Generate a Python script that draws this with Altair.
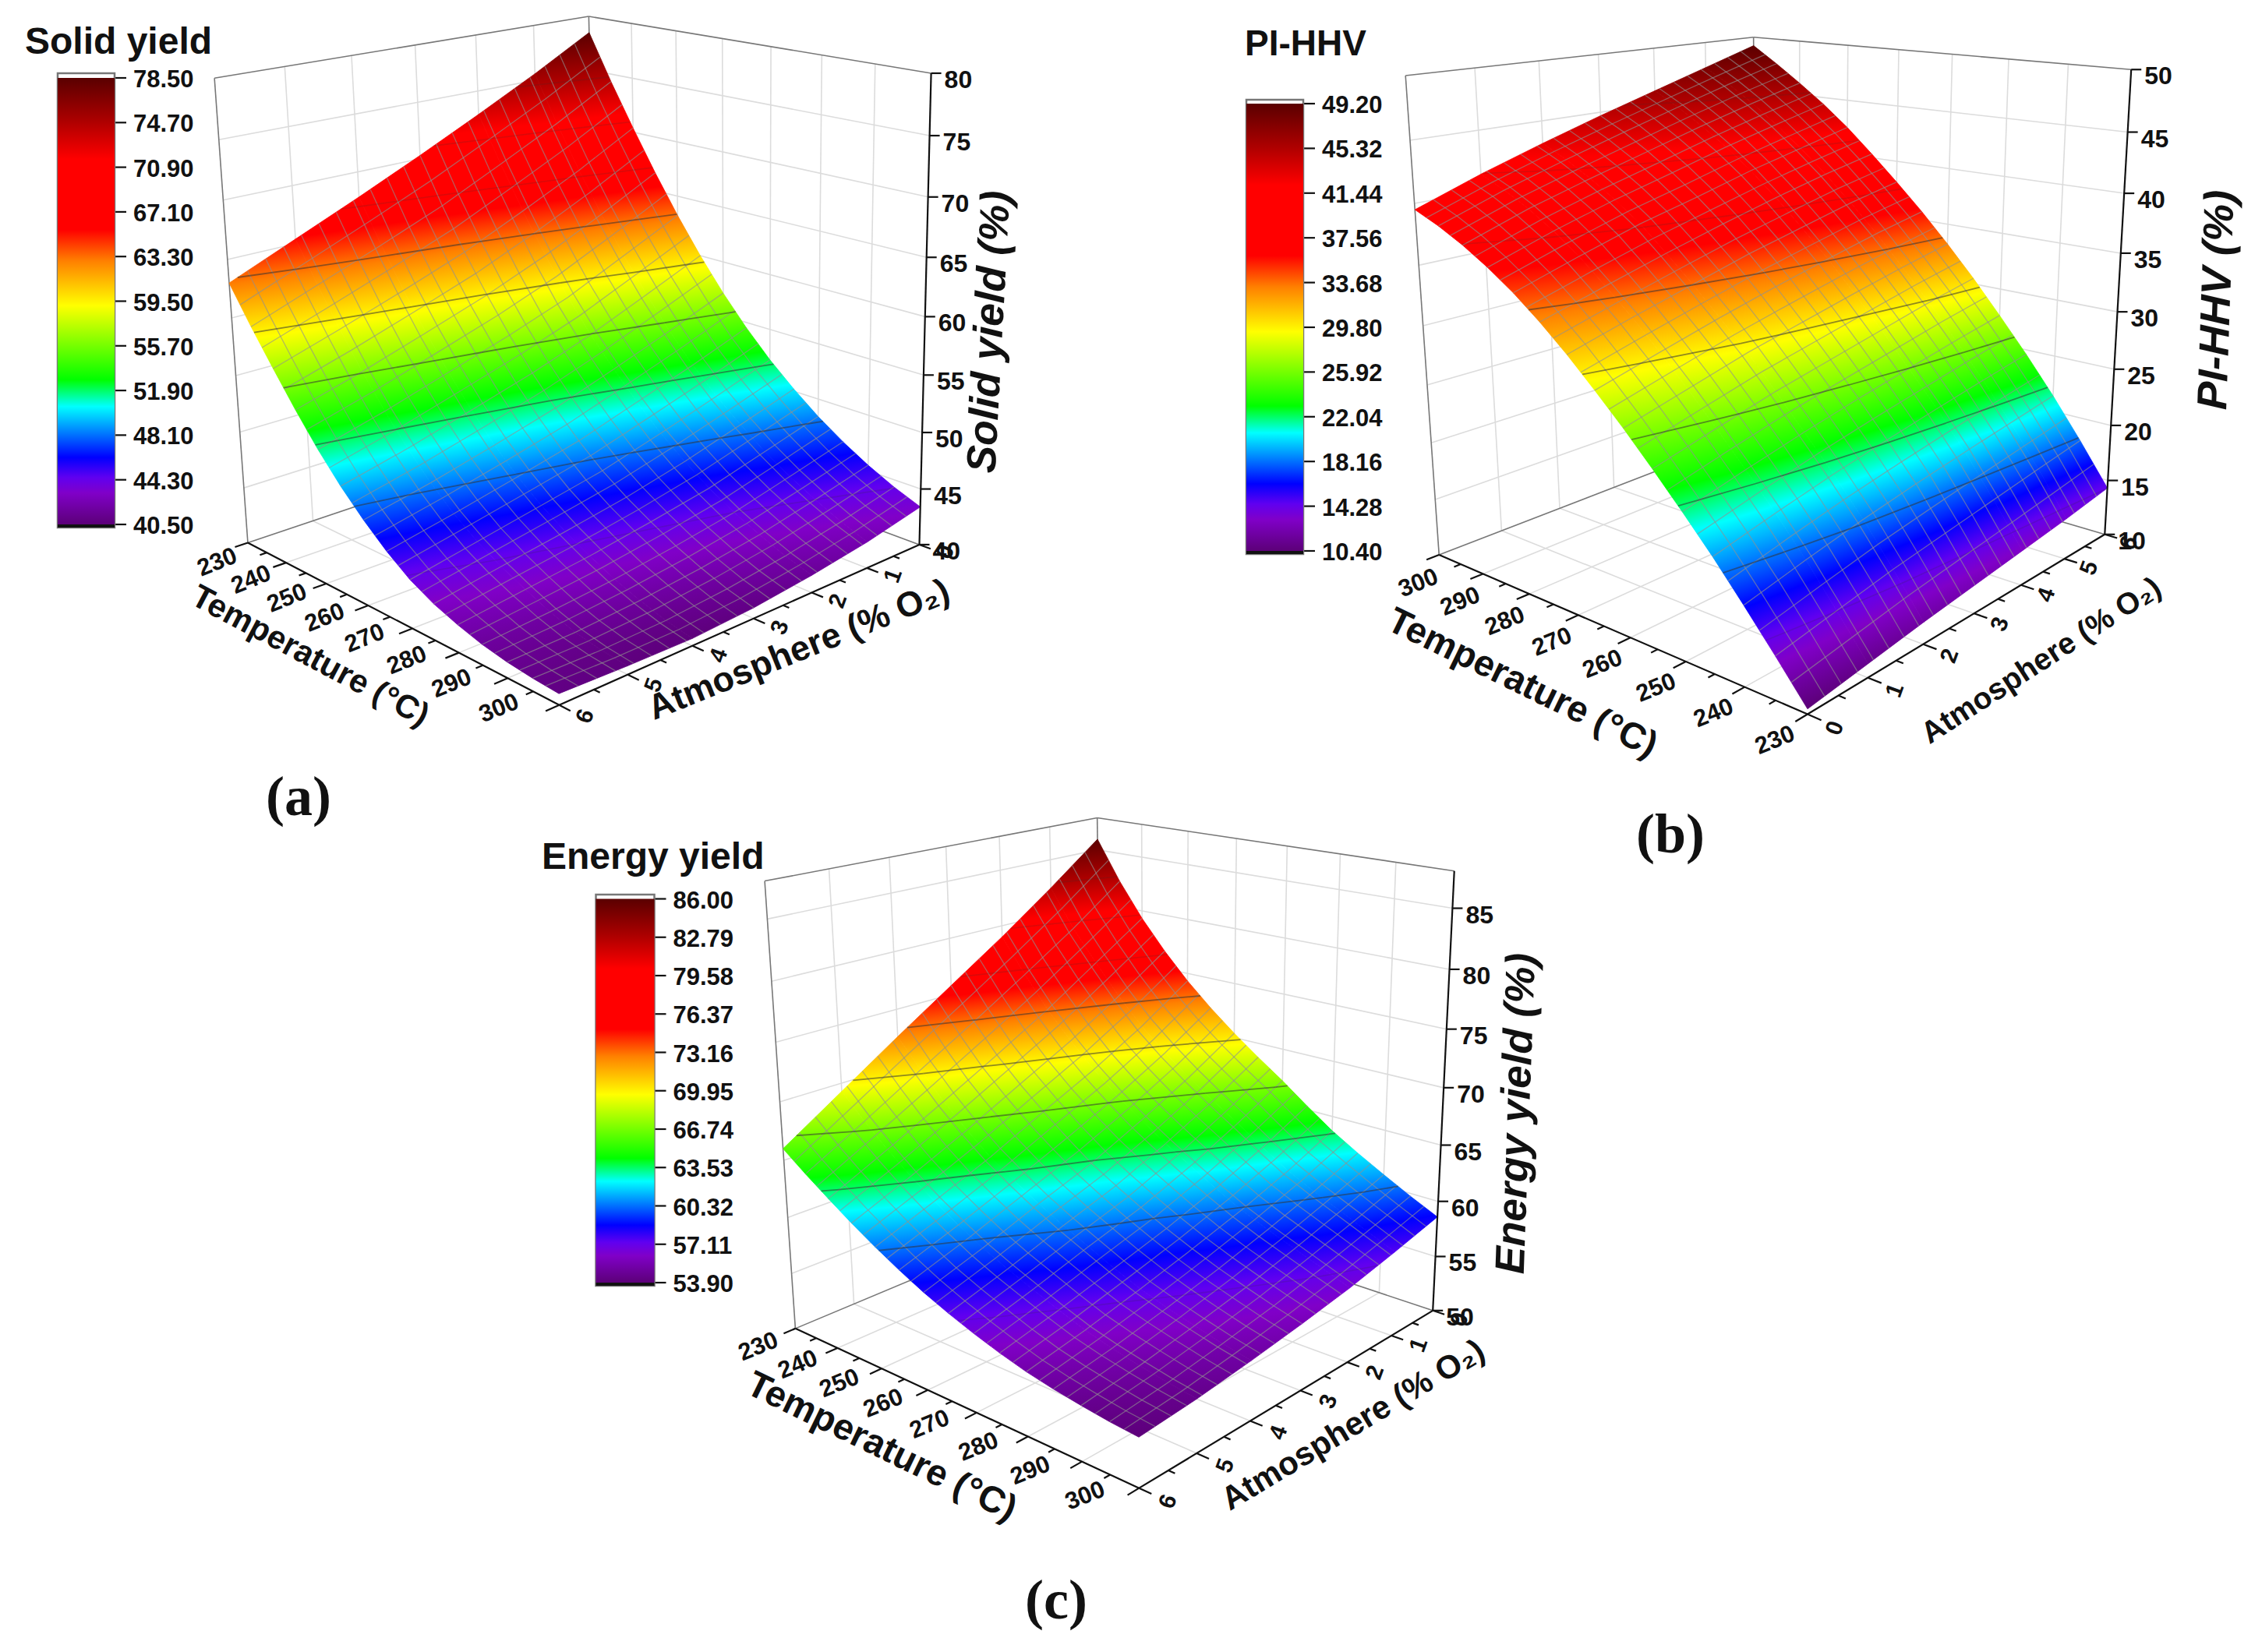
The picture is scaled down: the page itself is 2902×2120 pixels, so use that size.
import numpy as np
import altair as alt

# ------------------------------------------------------------------ values
T_TICKS = [230, 240, 250, 260, 270, 280, 290, 300]
O_TICKS = [0, 1, 2, 3, 4, 5, 6]
T_GRID = [230, 235, 240, 245, 250, 255, 260, 265, 270, 275, 280, 285, 290, 295, 300]

SOLID = [
    [78.5, 75.6, 72.9, 70.3, 67.8, 65.4, 63.0],
    [74.3, 71.45, 68.85, 66.3, 64.1, 62.0, 59.9],
    [70.4, 67.6, 65.1, 62.7, 60.7, 58.8, 57.0],
    [66.67, 64.05, 61.6, 59.45, 57.6, 55.8, 54.2],
    [63.2, 60.8, 58.4, 56.5, 54.8, 53.1, 51.6],
    [60.0, 57.8, 55.65, 53.8, 52.2, 50.65, 49.3],
    [57.1, 55.1, 53.2, 51.4, 49.9, 48.5, 47.3],
    [54.5, 52.65, 50.95, 49.25, 47.95, 46.7, 45.55],
    [52.2, 50.5, 48.9, 47.4, 46.3, 45.2, 44.1],
    [50.2, 48.65, 47.15, 45.9, 44.9, 44.0, 43.05],
    [48.4, 47.0, 45.6, 44.6, 43.7, 43.0, 42.3],
    [46.85, 45.55, 44.3, 43.4, 42.65, 42.1, 41.7],
    [45.5, 44.3, 43.2, 42.4, 41.8, 41.4, 41.3],
    [44.35, 43.2, 42.25, 41.55, 41.1, 40.95, 41.05],
    [43.4, 42.3, 41.5, 40.9, 40.6, 40.7, 40.9],
]
PIHHV = [
    [10.4, 11.1, 11.8, 12.4, 13.0, 13.6, 14.3],
    [13.4, 14.3, 15.2, 15.9, 16.6, 17.3, 17.95],
    [16.3, 17.4, 18.4, 19.25, 20.0, 20.7, 21.4],
    [19.1, 20.25, 21.3, 22.2, 23.05, 23.85, 24.6],
    [21.7, 22.9, 24.0, 25.0, 25.9, 26.8, 27.6],
    [24.2, 25.45, 26.65, 27.65, 28.65, 29.65, 30.5],
    [26.6, 27.9, 29.2, 30.25, 31.3, 32.3, 33.2],
    [28.85, 30.2, 31.5, 32.7, 33.8, 34.85, 35.75],
    [31.0, 32.4, 33.7, 35.0, 36.1, 37.2, 38.1],
    [32.95, 34.4, 35.8, 37.1, 38.3, 39.4, 40.35],
    [34.7, 36.3, 37.8, 39.0, 40.3, 41.4, 42.5],
    [36.2, 37.9, 39.4, 40.7, 42.05, 43.25, 44.4],
    [37.5, 39.3, 40.8, 42.2, 43.6, 44.9, 46.1],
    [38.6, 40.45, 42.05, 43.55, 45.0, 46.4, 47.7],
    [39.5, 41.4, 43.1, 44.7, 46.2, 47.7, 49.2],
]
ENERGY = [
    [86.0, 82.4, 79.0, 75.8, 72.6, 69.3, 66.0],
    [82.4, 79.05, 76.0, 73.05, 70.2, 67.3, 64.5],
    [79.3, 76.3, 73.3, 70.6, 68.0, 65.5, 63.1],
    [76.65, 73.7, 70.95, 68.55, 66.1, 63.85, 61.75],
    [74.3, 71.4, 68.9, 66.7, 64.4, 62.4, 60.5],
    [72.25, 69.5, 67.1, 65.0, 63.0, 61.1, 59.35],
    [70.4, 67.8, 65.5, 63.4, 61.7, 59.9, 58.3],
    [68.7, 66.25, 64.05, 62.1, 60.55, 58.9, 57.4],
    [67.1, 64.8, 62.7, 60.9, 59.5, 58.0, 56.6],
    [65.35, 63.25, 61.4, 59.8, 58.45, 57.1, 55.9],
    [63.7, 61.8, 60.2, 58.8, 57.5, 56.3, 55.3],
    [62.3, 60.65, 59.2, 57.9, 56.75, 55.7, 54.85],
    [61.0, 59.6, 58.3, 57.1, 56.1, 55.2, 54.5],
    [59.75, 58.55, 57.4, 56.35, 55.5, 54.75, 54.2],
    [58.6, 57.5, 56.5, 55.7, 55.0, 54.4, 54.0],
]
SOLID_LEVELS = [78.50, 74.70, 70.90, 67.10, 63.30, 59.50, 55.70, 51.90, 48.10, 44.30, 40.50]
PIHHV_LEVELS = [49.20, 45.32, 41.44, 37.56, 33.68, 29.80, 25.92, 22.04, 18.16, 14.28, 10.40]
ENERGY_LEVELS = [86.00, 82.79, 79.58, 76.37, 73.16, 69.95, 66.74, 63.53, 60.32, 57.11, 53.90]
SOLID_Z_TICKS = [40, 45, 50, 55, 60, 65, 70, 75, 80]
PIHHV_Z_TICKS = [10, 15, 20, 25, 30, 35, 40, 45, 50]
ENERGY_Z_TICKS = [50, 55, 60, 65, 70, 75, 80, 85]

# rainbow palette of the colour scale (fraction of the range, colour)
PALETTE = [(0.0, "#5c0078"), (0.07, "#8000c8"), (0.105, "#6000f0"), (0.15, "#0000ff"),
           (0.264, "#00ffff"), (0.324, "#00ff00"), (0.49, "#ffff00"), (0.59, "#ff8000"),
           (0.66, "#ff0000"), (0.818, "#ff0000"), (0.90, "#b00000"), (1.0, "#5a0000")]

# layout: box corners seen on the page, colour bar, captions
PANELS = [
    dict(table=SOLID, levels=SOLID_LEVELS, zticks=SOLID_Z_TICKS, zr=(40, 80), rev=False,
         toff=1.10, tshift=((13, 8), (-22, -20)), oshift=(0, -3),
         B0=(775, 535), B1=(754, 21), L0=(318, 698), L1=(274, 102), R0=(1179, 702), R1=(1194, 94),
         F0=(715, 903), F1=(714, 195),
         bar=(74, 147, 94, 100, 673), name="Solid yield", name_xy=(32, 55), name_size=48,
         ttitle=((398, 842), 28, 42), otitle=((1025, 834), 338, 45),
         ztitle=("Solid yield (%)", (1270, 426), 273, 53), cap=("(a)", (383, 1024))),
    dict(table=PIHHV, levels=PIHHV_LEVELS, zticks=PIHHV_Z_TICKS, zr=(10, 50), rev=True,
         toff=1.07, tshift=((9, 23), (-7, 13)), oshift=(-6, 0),
         B0=(2265, 548), B1=(2246.5, 47.7), L0=(1843, 714), L1=(1807, 97), R0=(2697, 687), R1=(2738, 90),
         F0=(2323, 915), F1=(2300, 160),
         bar=(1599, 1672, 128, 133, 707), name="PI-HHV", name_xy=(1597, 57), name_size=46,
         ttitle=((1953, 877), 26, 47), otitle=((2619, 848), 327, 39),
         ztitle=("PI-HHV (%)", (2845, 385), 272, 54), cap=("(b)", (2143, 1072))),
    dict(table=ENERGY, levels=ENERGY_LEVELS, zticks=ENERGY_Z_TICKS, zr=(50, 88), rev=False,
         toff=1.10, tshift=((0, 4), (-22, -18)), oshift=(0, 0),
         B0=(1420, 1530), B1=(1406, 1049), L0=(1018.5, 1707), L1=(983, 1132), R0=(1836, 1684), R1=(1868, 1119),
         F0=(1464, 1908), F1=(1447, 1222),
         bar=(764.5, 839.5, 1148, 1153.5, 1646), name="Energy yield", name_xy=(695, 1101), name_size=48,
         ttitle=((1131, 1857), 26, 47), otitle=((1736, 1829), 329, 42),
         ztitle=("Energy yield (%)", (1946, 1429), 272, 53), cap=("(c)", (1355, 2055))),
]
MESH_T, MESH_O = 28, 22


def hex2rgb(h):
    return np.array([int(h[i:i + 2], 16) for i in (1, 3, 5)], float)


def cmap(f):
    f = min(1.0, max(0.0, f))
    for (a, ca), (b, cb) in zip(PALETTE[:-1], PALETTE[1:]):
        if f <= b:
            c = hex2rgb(ca) + (hex2rgb(cb) - hex2rgb(ca)) * (f - a) / (b - a)
            return "#%02x%02x%02x" % tuple(int(round(v)) for v in c)
    return PALETTE[-1][1]


def camera(p):
    """Perspective camera fitted to the eight box corners."""
    pts = [((0, 0, 0), p["B0"], .5), ((0, 0, 1), p["B1"], 1), ((0, 1, 0), p["L0"], 1), ((0, 1, 1), p["L1"], 1),
           ((1, 0, 0), p["R0"], 1), ((1, 0, 1), p["R1"], 1), ((1, 1, 0), p["F0"], 1), ((1, 1, 1), p["F1"], .5)]
    rows = []
    for (X, Y, Z), (u, v), wt in pts:
        u, v = u / 1000, v / 1000
        rows.append([wt * c for c in [X, Y, Z, 1, 0, 0, 0, 0, -u * X, -u * Y, -u * Z, -u]])
        rows.append([wt * c for c in [0, 0, 0, 0, X, Y, Z, 1, -v * X, -v * Y, -v * Z, -v]])
    M = np.linalg.svd(np.array(rows))[2][-1].reshape(3, 4)

    def proj(s, q, w):
        h = M @ np.array([s, q, w, 1.0])
        return h[0] / h[2] * 1000, h[1] / h[2] * 1000
    return proj


cells, lines, texts, bars, bar_white, bar_foot = [], [], [], [], [], []
gid = 0


def add_line(style, pts):
    global gid
    gid += 1
    for i, (x, y) in enumerate(pts):
        lines.append(dict(x=float(x), y=float(y), g=gid, i=i, style=style))


def add_text(style, text, x, y, size, angle=0):
    texts.append(dict(text=text, x=float(x), y=float(y), size=size, angle=angle, style=style))


for p in PANELS:
    proj = camera(p)
    Z = np.array(p["table"], float)
    zlo, zhi = p["levels"][-1], p["levels"][0]
    zmin, zmax = p["zr"]
    rev = p["rev"]
    sf = (lambda t: (300 - t) / 70) if rev else (lambda t: (t - 230) / 70)
    qf = (lambda o: (6 - o) / 6) if rev else (lambda o: o / 6)
    wf = lambda z: (z - zmin) / (zmax - zmin)
    nT, nO = len(T_GRID), len(O_TICKS)

    def P(t, o, z):
        return proj(sf(t), qf(o), wf(z))

    # box edges
    for a, b in [((0, 1, 0), (0, 0, 0)), ((0, 0, 0), (1, 0, 0)), ((0, 1, 0), (0, 1, 1)), ((0, 1, 1), (0, 0, 1)),
                 ((0, 0, 1), (1, 0, 1)), ((0, 0, 0), (0, 0, 1))]:
        add_line("box", [proj(*a), proj(*b)])
    # grids on the walls and the floor
    for t in T_TICKS:
        s = sf(t)
        if 0 < s < 1:
            add_line("grid", [proj(s, 0, 0), proj(s, 0, 1)])
            add_line("grid", [proj(s, 0, 0), proj(s, 1, 0)])
    for o in O_TICKS:
        q = qf(o)
        if 0 < q < 1:
            add_line("grid", [proj(0, q, 0), proj(0, q, 1)])
            add_line("grid", [proj(0, q, 0), proj(1, q, 0)])
    for z in p["zticks"]:
        w = wf(z)
        if 0 < w < 1:
            add_line("grid", [proj(0, 1, w), proj(0, 0, w)])
            add_line("grid", [proj(0, 0, w), proj(1, 0, w)])

    # surface cells, each shaded with a gradient between its four read values
    for i in range(nT - 1):
        for j in range(nO - 1):
            corners = [(i, j), (i + 1, j), (i + 1, j + 1), (i, j + 1)]
            pts = [P(T_GRID[a], O_TICKS[b], Z[a, b]) for a, b in corners]
            zs = np.array([Z[a, b] for a, b in corners])
            xs, ys = np.array(pts).T
            u = (xs - xs.min()) / (xs.max() - xs.min())
            v = (ys - ys.min()) / (ys.max() - ys.min())
            A, B, C = np.linalg.lstsq(np.c_[u, v, np.ones(4)], zs, rcond=None)[0]
            fit = A * u + B * v + C
            a0, a1 = fit.min(), fit.max()
            d2 = A * A + B * B
            zc = A * .5 + B * .5 + C
            x1, y1 = .5 + A * (a0 - zc) / d2, .5 + B * (a0 - zc) / d2
            x2, y2 = .5 + A * (a1 - zc) / d2, .5 + B * (a1 - zc) / d2
            f0, f1 = (a0 - zlo) / (zhi - zlo), (a1 - zlo) / (zhi - zlo)
            stops = [dict(offset=0, color=cmap(f0))]
            for fs, _ in PALETTE:
                if f0 < fs < f1:
                    stops.append(dict(offset=float((fs - f0) / (f1 - f0)), color=cmap(fs)))
            stops.append(dict(offset=1, color=cmap(f1)))
            grad = dict(gradient="linear", x1=float(x1), y1=float(y1), x2=float(x2), y2=float(y2), stops=stops)
            ring = [[float(x), float(y)] for x, y in pts] + [[float(pts[0][0]), float(pts[0][1])]]
            cells.append(dict(type="Feature", geometry=dict(type="Polygon", coordinates=[ring]),
                              properties=dict(grad=grad)))

    # wireframe across the surface
    for k in range(1, MESH_T):
        t = 230 + 70 * k / MESH_T
        a = min(int((t - 230) // 5), nT - 2)
        r = (t - T_GRID[a]) / 5
        add_line("mesh", [P(t, o, Z[a, b] * (1 - r) + Z[a + 1, b] * r) for b, o in enumerate(O_TICKS)])
    for k in range(1, MESH_O):
        o = 6 * k / MESH_O
        b = min(int(o), nO - 2)
        r = o - b
        add_line("mesh", [P(t, o, Z[a, b] * (1 - r) + Z[a, b + 1] * r) for a, t in enumerate(T_GRID)])

    # contours at the colour-scale levels
    for lev in p["levels"][1:-1]:
        frac = (lev - zlo) / (zhi - zlo)
        style = "contour" if 0.15 < frac < 0.66 else "contour_faint"
        tl = lev + 1e-6
        for i in range(nT - 1):
            for j in range(nO - 1):
                ed = [((i, j), (i + 1, j)), ((i + 1, j), (i + 1, j + 1)), ((i + 1, j + 1), (i, j + 1)), ((i, j + 1), (i, j))]
                hits = []
                for (a, b), (c, d) in ed:
                    z0, z1 = Z[a, b], Z[c, d]
                    if (z0 - tl) * (z1 - tl) < 0:
                        r = (tl - z0) / (z1 - z0)
                        hits.append(P(T_GRID[a] + r * (T_GRID[c] - T_GRID[a]),
                                      O_TICKS[b] + r * (O_TICKS[d] - O_TICKS[b]), lev))
                if len(hits) >= 2:
                    add_line(style, hits[:2])

    # axes
    add_line("axis", [proj(0, 1, 0), proj(1, 1, 0)])
    add_line("axis", [proj(1, 1, 0), proj(1, 0, 0)])
    add_line("axis", [proj(1, 0, 0), proj(1, 0, 1)])
    (dx0, dy0), (dx1, dy1) = p["tshift"]
    for t in range(230, 301, 5):
        major = t % 10 == 0
        s = sf(t)
        add_line("axis", [proj(s, 1, 0), proj(s, 1.032 if major else 1.017, 0)])
        if major:
            x, y = proj(s, p["toff"], 0)
            add_text("tick", str(t), x + dx0 + (dx1 - dx0) * s, y + dy0 + (dy1 - dy0) * s, 31, 338)
    for k in range(0, 13):
        o = k / 2
        major = k % 2 == 0
        q = qf(o)
        add_line("axis", [proj(1, q, 0), proj(1.03 if major else 1.016, q, 0)])
        if major:
            x, y = proj(1.07, q, 0)
            add_text("tick", str(int(o)), x + p["oshift"][0], y + p["oshift"][1], 30, 290)
    for z in p["zticks"]:
        w = wf(z)
        x, y = proj(1, 0, w)
        add_line("axis", [(x, y), (x + 13, y)])
        add_text("zlab", str(z), x + 17, y + 9, 32)

    # colour bar
    bx0, bx1, btop, by0, by1 = p["bar"]
    bar_white.append(dict(x=bx0, x2=bx1, y=btop, y2=by1 + 4))
    bars.append(dict(x=bx0, x2=bx1, y=by0, y2=by1))
    bar_foot.append(dict(x=bx0, x2=bx1, y=by1, y2=by1 + 4))
    for lev in p["levels"]:
        y = by0 + (zhi - lev) / (zhi - zlo) * (by1 - by0)
        add_line("axis", [(bx1, y), (bx1 + 15, y)])
        add_text("zlab", "%.2f" % lev, bx1 + 24, y + 3, 31)
    add_text("name", p["name"], p["name_xy"][0], p["name_xy"][1], p["name_size"])

    (cx, cy), ang, size = p["ttitle"]
    add_text("title", "Temperature (°C)", cx, cy, size, ang)
    (cx, cy), ang, size = p["otitle"]
    add_text("title", "Atmosphere (% O₂)", cx, cy, size, ang)
    txt, (cx, cy), ang, size = p["ztitle"]
    add_text("ztitle", txt, cx, cy, size, ang)
    add_text("cap", p["cap"][0], p["cap"][1][0], p["cap"][1][1], 72)

# ------------------------------------------------------------------ chart
sx = alt.Scale(domain=[8, 2894], nice=False, zero=False)
sy = alt.Scale(domain=[2112, 8], nice=False, zero=False)
X = alt.X("x:Q", scale=sx, axis=None)
Y = alt.Y("y:Q", scale=sy, axis=None)


def line_layer(style, color, width, opacity=1.0):
    data = [r for r in lines if r["style"] == style]
    return alt.Chart(alt.Data(values=data)).mark_line(
        color=color, strokeWidth=width, opacity=opacity, interpolate="linear", clip=False
    ).encode(x=X, y=Y, detail="g:N", order="i:Q")


def text_layer(style, align, **mark):
    data = [r for r in texts if r["style"] == style]
    return alt.Chart(alt.Data(values=data)).mark_text(align=align, baseline="middle", color="#111111", **mark).encode(
        x=X, y=Y, text="text:N", size=alt.Size("size:Q", scale=None), angle=alt.Angle("angle:Q", scale=None)
    )


def rect_layer(data, **mark):
    return alt.Chart(alt.Data(values=data)).mark_rect(**mark).encode(x=X, x2="x2:Q", y=Y, y2="y2:Q")


surface = alt.Chart(alt.Data(values=cells)).mark_geoshape(filled=True, opacity=1, strokeWidth=0.8).encode(
    fill=alt.Fill("properties.grad:N", scale=None),
    stroke=alt.Stroke("properties.grad:N", scale=None),
).project(type="identity", scale=1, translate=[-8, -8])

bar_gradient = alt.Gradient(gradient="linear", x1=0, x2=0, y1=1, y2=0,
                            stops=[alt.GradientStop(color=c, offset=f) for f, c in PALETTE])

chart = alt.layer(
    line_layer("grid", "#dcdcdc", 1.6),
    line_layer("box", "#777777", 1.6),
    surface,
    line_layer("mesh", "#8f8f8f", 1.3, 0.62),
    line_layer("contour", "#333333", 1.8, 0.55),
    line_layer("contour_faint", "#333333", 1.6, 0.18),
    line_layer("axis", "#111111", 2.2),
    rect_layer(bar_white, fill="#ffffff", stroke="#777777", strokeWidth=2.5),
    rect_layer(bars, fill=bar_gradient),
    rect_layer(bar_foot, fill="#111111"),
    text_layer("tick", "center", font="Liberation Sans", fontWeight="bold"),
    text_layer("zlab", "left", font="Liberation Sans", fontWeight="bold"),
    text_layer("name", "left", font="Liberation Sans", fontWeight="bold"),
    text_layer("title", "center", font="Liberation Sans", fontWeight="bold"),
    text_layer("ztitle", "center", font="Liberation Sans", fontWeight="bold", fontStyle="italic"),
    text_layer("cap", "center", font="Liberation Serif", fontWeight="bold"),
).properties(width=2886, height=2104, padding=0, autosize=alt.AutoSizeParams(type="none"),
             background="#ffffff").configure_view(stroke=None)

chart.save("out.html", embed_options={"renderer": "svg", "actions": False})
